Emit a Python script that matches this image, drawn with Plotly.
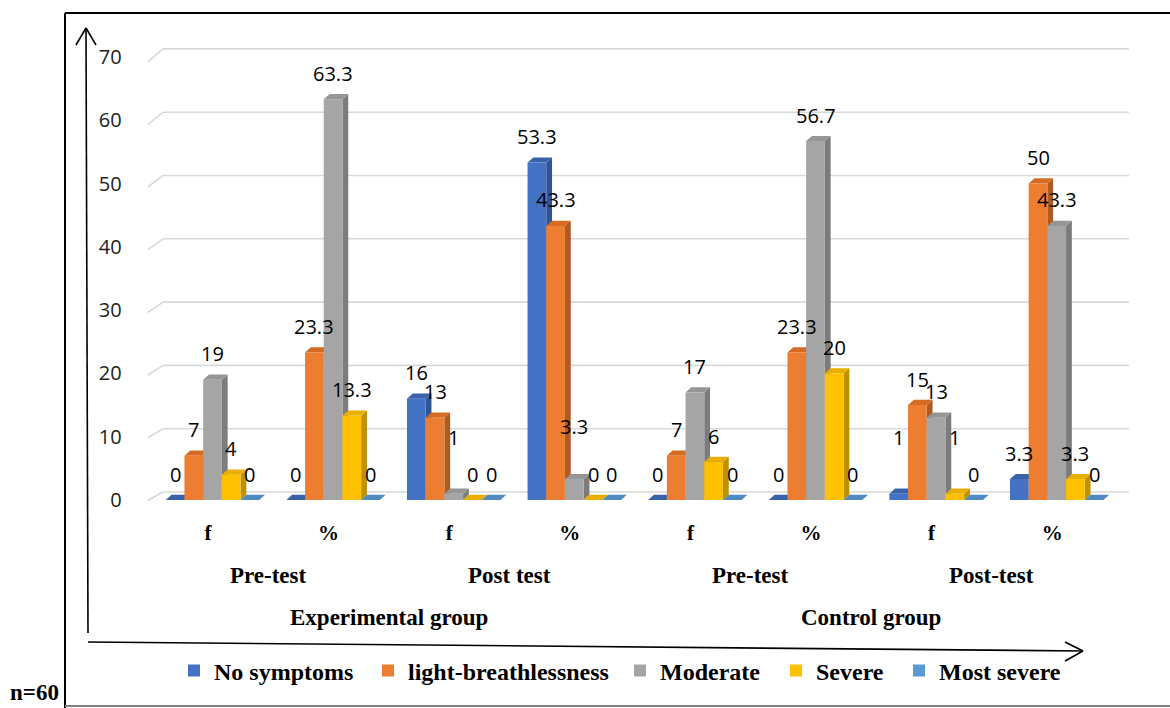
import plotly.graph_objects as go

# ---- data -------------------------------------------------------------
clusters = ["f", "%", "f", "%", "f", "%", "f", "%"]
test_labels = ["Pre-test", "Post test", "Pre-test", "Post-test"]
group_labels = ["Experimental group", "Control group"]
series_names = ["No symptoms", "light-breathlessness", "Moderate", "Severe", "Most severe"]

no_symptoms = [0, 0, 16, 53.3, 0, 0, 1, 3.3]
light_breathlessness = [7, 23.3, 13, 43.3, 7, 23.3, 15, 50]
moderate = [19, 63.3, 1, 3.3, 17, 56.7, 13, 43.3]
severe = [4, 13.3, 0, 0, 6, 20, 1, 3.3]
most_severe = [0, 0, 0, 0, 0, 0, 0, 0]

y_ticks = [0, 10, 20, 30, 40, 50, 60, 70]

# ---- styling ----------------------------------------------------------
series_values = [no_symptoms, light_breathlessness, moderate, severe, most_severe]
front_cols = ["#4472C4", "#ED7D31", "#A5A5A5", "#FFC000", "#5B9BD5"]
top_cols = ["#3A62AB", "#D66C24", "#969696", "#E8AE00", "#4F8AC0"]
side_cols = ["#2F5597", "#AE5A21", "#7C7C7C", "#BF9000", "#41719C"]

W, H = 1170, 708
X_LEFT, X_RIGHT = 147.7, 1112.5          # front floor edge, px
Y_ZERO = 500.0                           # value 0, px
PX_Y = 6.33                              # px per unit on the value axis
Y_MIN, Y_MAX = -1.5, 75.0                # room for the slanted gridline ends
PX_X = (X_RIGHT - X_LEFT) / 8.0          # px per category

BAR_W = 18.7 / PX_X                      # bar width in category units
SHIFT = 4.5 / PX_X                       # cluster drift to the right
DEPTH_X = 5.8 / PX_X                     # 3-D depth offset
DEPTH_Y = 5.2 / PX_Y

# extra lift (px) for a few crowded labels
label_lift = {(2, 2): 30, (3, 2): 27, (6, 0): 30, (6, 3): 30}

# legend text start (px) for each series, one legend box per series
legend_text_x = [213, 407, 659, 815, 938]

SERIF = "Liberation Serif"
SANS = "Open Sans"


def px(xp):
    return xp / W


def py(yp):
    return (H - yp) / H


fig = go.Figure()
shapes = []
annotations = []

# back-wall gridlines with the slanted return to the front edge
for v in y_ticks:
    front_drop = (0.5 + 4.5 * v / 70.0) / PX_Y
    back_rise = 8.0 / PX_Y
    shapes.append(dict(type="line", xref="paper", yref="y", layer="below",
                       x0=px(X_LEFT), y0=v - front_drop, x1=px(163), y1=v + back_rise,
                       line=dict(color="#D9D9D9", width=1.6)))
    shapes.append(dict(type="line", xref="paper", yref="y", layer="below",
                       x0=px(163), y0=v + back_rise, x1=px(1129), y1=v + back_rise,
                       line=dict(color="#D9D9D9", width=1.6)))

# bar fronts
for k, (name, vals) in enumerate(zip(series_names, series_values)):
    xs = [i + SHIFT + (k - 2) * BAR_W for i in range(len(clusters))]
    lg = "legend" if k == 0 else f"legend{k + 1}"
    fig.add_trace(go.Bar(
        x=xs, y=vals, width=BAR_W, name=name, legend=lg,
        marker=dict(color=front_cols[k], line=dict(width=0)),
        hoverinfo="y",
    ))

# side and top faces, drawn left to right so nearer fronts cover them
for i in range(len(clusters)):
    for k, vals in enumerate(series_values):
        v = vals[i]
        xc = i + SHIFT + (k - 2) * BAR_W
        xl, xr = xc - BAR_W / 2, xc + BAR_W / 2
        side = (f"M{xr},{0} L{xr + DEPTH_X},{DEPTH_Y} L{xr + DEPTH_X},{v + DEPTH_Y} "
                f"L{xr},{v} Z")
        top = (f"M{xl},{v} L{xr},{v} L{xr + DEPTH_X},{v + DEPTH_Y} "
               f"L{xl + DEPTH_X},{v + DEPTH_Y} Z")
        shapes.append(dict(type="path", xref="x", yref="y", layer="below", path=side,
                           fillcolor=side_cols[k], line=dict(width=0)))
        shapes.append(dict(type="path", xref="x", yref="y", layer="below", path=top,
                           fillcolor=top_cols[k], line=dict(width=0)))
        annotations.append(dict(
            x=xc, y=v, xref="x", yref="y", text=f"{v:g}", showarrow=False,
            yanchor="middle", xanchor="center", yshift=26 + label_lift.get((i, k), 0),
            font=dict(family=SANS, size=20, color="#000000"),
        ))

# second and third category levels
for j, t in enumerate(test_labels):
    annotations.append(dict(x=2 * j + 0.5, y=py(575), xref="x", yref="paper", text=t,
                            showarrow=False, yanchor="middle",
                            font=dict(family=SERIF, size=23, color="#000", weight="bold")))
for j, g in enumerate(group_labels):
    annotations.append(dict(x=4 * j + 1.5, y=py(617), xref="x", yref="paper", text=g,
                            showarrow=False, yanchor="middle",
                            font=dict(family=SERIF, size=23, color="#000", weight="bold")))

annotations.append(dict(x=px(8), y=py(707), xref="paper", yref="paper", text="n=60",
                        showarrow=False, xanchor="left", yanchor="bottom",
                        font=dict(family=SERIF, size=23, color="#000", weight="bold")))

# frame
shapes.append(dict(type="line", xref="paper", yref="paper", x0=px(65), y0=py(13),
                   x1=px(65), y1=py(708), line=dict(color="#000", width=2)))
shapes.append(dict(type="line", xref="paper", yref="paper", x0=px(65), y0=py(13),
                   x1=px(1172), y1=py(13), line=dict(color="#000", width=2)))
shapes.append(dict(type="line", xref="paper", yref="paper", x0=px(65), y0=py(706),
                   x1=px(1172), y1=py(706), line=dict(color="#7F7F7F", width=2)))

# hand-drawn axis arrows
arrow = dict(color="#000", width=1.6)
for (xa, ya, xb, yb) in [
    (88, 633, 86, 28), (86, 28, 76, 45), (86, 28, 96, 45),
    (88, 642, 1083, 651), (1083, 651, 1065, 642), (1083, 651, 1065, 661),
]:
    shapes.append(dict(type="line", xref="paper", yref="paper", x0=px(xa), y0=py(ya),
                       x1=px(xb), y1=py(yb), line=arrow))

legend_style = dict(orientation="h", y=py(671), xanchor="left", yanchor="middle",
                    font=dict(family=SERIF, size=24, color="#000", weight="bold"),
                    bgcolor="rgba(0,0,0,0)")
legends = {}
for k, tx in enumerate(legend_text_x):
    key = "legend" if k == 0 else f"legend{k + 1}"
    legends[key] = dict(legend_style, x=px(tx - 39))

fig.update_layout(
    width=W, height=H,
    margin=dict(l=0, r=0, t=0, b=0, autoexpand=False),
    paper_bgcolor="#FFFFFF", plot_bgcolor="rgba(0,0,0,0)",
    barmode="overlay",
    showlegend=True,
    xaxis=dict(domain=[px(X_LEFT), px(X_RIGHT)], range=[-0.5, 7.5],
               tickvals=list(range(len(clusters))), ticktext=clusters,
               showgrid=False, zeroline=False, showline=False,
               ticks="outside", ticklen=4, tickcolor="rgba(0,0,0,0)",
               tickfont=dict(family=SERIF, size=21, color="#000", weight="bold")),
    yaxis=dict(domain=[py(Y_ZERO - Y_MIN * PX_Y), py(Y_ZERO - Y_MAX * PX_Y)],
               range=[Y_MIN, Y_MAX],
               tickvals=y_ticks, showgrid=False, zeroline=False, showline=False,
               ticks="outside", ticklen=21, tickcolor="rgba(0,0,0,0)",
               tickfont=dict(family=SANS, size=20, color="#222")),
    shapes=shapes,
    annotations=annotations,
    **legends,
)

fig.write_html("out.html")
